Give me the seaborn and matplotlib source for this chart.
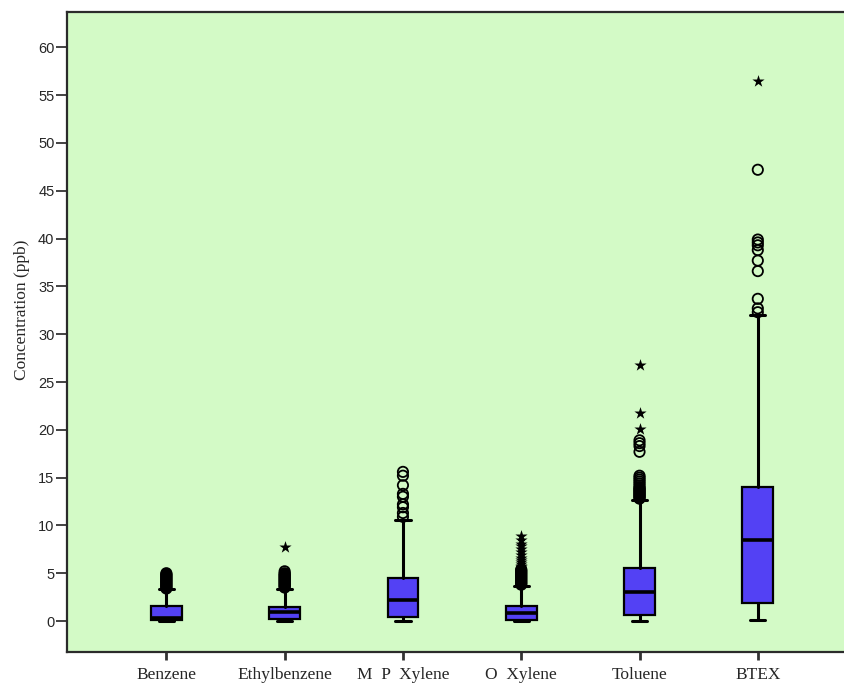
import matplotlib
matplotlib.use("Agg")
import matplotlib.pyplot as plt
import seaborn as sns

# ---- data ----
categories = ["Benzene", "Ethylbenzene", "M  P  Xylene", "O  Xylene", "Toluene", "BTEX"]
whislo = [0.0, 0.0, 0.03, 0.0, 0.05, 0.15]
q1 = [0.15, 0.17, 0.40, 0.10, 0.65, 1.85]
med = [0.35, 0.90, 2.20, 0.80, 3.00, 8.50]
q3 = [1.60, 1.50, 4.55, 1.60, 5.50, 14.00]
whishi = [3.30, 3.40, 10.60, 3.70, 12.65, 32.00]

circles_benzene = [3.4, 3.5, 3.6, 3.7, 3.8, 3.9, 4.0, 4.1, 4.2, 4.3, 4.4, 4.5, 4.6, 4.7, 4.8, 4.9, 5.0]
circles_ethyl = [3.5, 3.6, 3.7, 3.8, 3.9, 4.0, 4.1, 4.2, 4.3, 4.4, 4.5, 4.6, 4.7, 4.8, 4.9, 5.0, 5.2]
circles_mpx = [10.9, 11.3, 11.9, 12.2, 13.0, 13.3, 14.2, 15.2, 15.6]
circles_ox = [3.8, 3.9, 4.0, 4.1, 4.2, 4.3, 4.4, 4.5, 4.6, 4.7, 4.8, 4.9, 5.0, 5.1, 5.2, 5.3, 5.4]
circles_tol = [12.8, 12.9, 13.0, 13.1, 13.2, 13.3, 13.4, 13.5, 13.6, 13.7, 13.8, 13.9, 14.0,
               14.2, 14.4, 14.6, 14.8, 15.0, 15.2, 17.7, 18.3, 18.6, 18.9]
circles_btex = [32.3, 32.7, 33.7, 36.6, 37.7, 38.8, 39.3, 39.6, 39.9, 47.2]
circles = [circles_benzene, circles_ethyl, circles_mpx, circles_ox, circles_tol, circles_btex]

stars_benzene = []
stars_ethyl = [7.7]
stars_mpx = []
stars_ox = [5.6, 5.8, 6.0, 6.2, 6.4, 6.6, 6.9, 7.2, 7.5, 7.8, 8.1, 8.5, 8.9]
stars_tol = [20.1, 21.8, 26.8]
stars_btex = [56.5]
stars = [stars_benzene, stars_ethyl, stars_mpx, stars_ox, stars_tol, stars_btex]

yticks = list(range(0, 61, 5))

# ---- styling ----
sns.set_theme(style="ticks")
plt.rcParams["font.family"] = ["Liberation Serif", "DejaVu Sans"]

W, H = 844, 684
fig = plt.figure(figsize=(W / 100, H / 100), dpi=100)
ax = fig.add_axes([67 / W, (H - 652) / H, (W - 67) / W + 0.01, (652 - 12) / H])

bg = "#D3FAC6"
box_color = "#5341F4"
ax.set_facecolor(bg)

stats = []
for i, name in enumerate(categories):
    stats.append(dict(label=name, whislo=whislo[i], q1=q1[i], med=med[i],
                      q3=q3[i], whishi=whishi[i], fliers=[]))

positions = list(range(len(categories)))
ax.bxp(stats, positions=positions, widths=0.26, capwidths=0.13,
       patch_artist=True, showfliers=False,
       boxprops=dict(facecolor=box_color, edgecolor="black", linewidth=1.6),
       medianprops=dict(color="black", linewidth=2.6),
       whiskerprops=dict(color="black", linewidth=2.2),
       capprops=dict(color="black", linewidth=2.2))

for i in positions:
    if circles[i]:
        ax.scatter([i] * len(circles[i]), circles[i], s=55, facecolors="none",
                   edgecolors="black", linewidths=1.3, zorder=3)
    if stars[i]:
        ax.scatter([i] * len(stars[i]), stars[i], s=85, marker="*",
                   color="black", linewidths=0, zorder=3)

ax.set_xlim(-0.84, 5.80)
ax.set_ylim(-3.24, 63.7)
ax.set_yticks(yticks)
ax.set_yticklabels([str(t) for t in yticks], fontfamily="Liberation Sans", fontsize=10.5)
ax.set_xticks(positions)
ax.set_xticklabels(categories, fontsize=12.5)

ax.tick_params(axis="y", length=8, width=1.2, color="#222222", pad=1)
ax.tick_params(axis="x", length=6, width=2, color="#333333", pad=5)

for side in ["left", "bottom", "top"]:
    ax.spines[side].set_color("#2b2b2b")
    ax.spines[side].set_linewidth(1.6)
    ax.spines[side].set_visible(True)
ax.spines["right"].set_visible(False)

ax.set_xlabel("")
ax.set_ylabel("")
fig.text(22 / W, 1 - 310 / H, "Concentration (ppb)", rotation=90,
         ha="center", va="center", fontsize=12.5)

fig.savefig("out.png", dpi=100, facecolor="white")
